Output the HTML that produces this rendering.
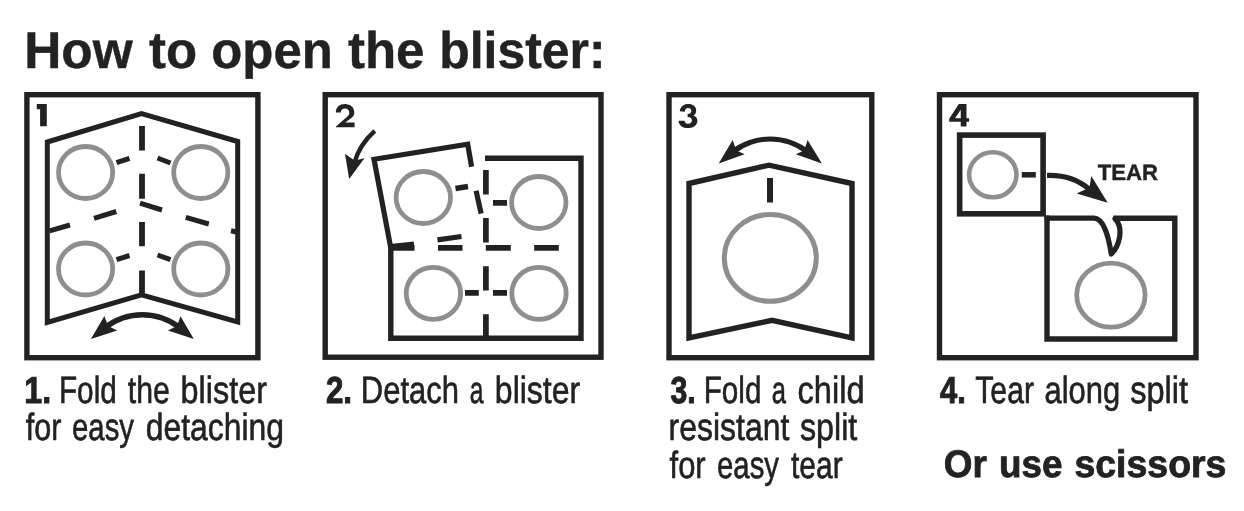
<!DOCTYPE html>
<html>
<head>
<meta charset="utf-8">
<title>How to open the blister</title>
<style>
html,body{margin:0;padding:0;background:#fff;}
body{width:1244px;height:511px;overflow:hidden;position:relative;font-family:"Liberation Sans",sans-serif;}
svg{position:absolute;left:0;top:0;display:block;}
text{font-family:"Liberation Sans",sans-serif;fill:#222;stroke:#222;text-rendering:geometricPrecision;}
.b{font-weight:bold;}
.k{stroke:#222;fill:none;}
.g{stroke:#8e8e91;fill:none;}
</style>
</head>
<body>
<svg width="1244" height="511" viewBox="0 0 1244 511">
<rect x="0" y="0" width="1244" height="511" fill="#fff"/>

<!-- Title -->

<!-- ===== Panel 1 ===== -->
<g id="p1">
<path fill="#222" d="M36.8 104.1 H46.8 V126.2 H40.1 V109.3 H36.8 Z"/>
<rect class="k" x="26.9" y="94.7" width="231" height="263" stroke-width="5.4"/>
<path class="k" stroke-width="5" stroke-linejoin="miter" d="M47.3 142 L141.5 113.5 L237.7 141.5 L237.7 322 L141.5 294.9 L47.3 322.5 Z"/>
<g class="g" stroke-width="4.8">
<ellipse cx="85.6" cy="172.5" rx="27.1" ry="26"/>
<ellipse cx="200.8" cy="172.5" rx="27.1" ry="26"/>
<ellipse cx="85.6" cy="269" rx="27.1" ry="26"/>
<ellipse cx="200.8" cy="269" rx="27.1" ry="26"/>
</g>
<g class="k" stroke-width="5">
<path stroke-width="5.8" d="M142 126 V150.5 M142 173.8 V198.8 M142 222 V246.2 M142 270.5 V293"/>
<path d="M116.5 162.7 L129.5 158.3 M157.5 158 L170.5 163"/>
<path d="M116.5 259.7 L129.5 255.5 M157.5 255 L170.5 259.7"/>
<path d="M49.5 230.8 L70 225 M94 218.3 L116.3 211.5 M140 203.2 L162 210 M185.8 217.3 L208.8 224 M231 230.8 L237.5 232.3"/>
</g>
<path fill="#222" d="M102 326.5 A63.7 63.7 0 0 1 182.7 326.5 L177.7 329.5 A57.8 57.8 0 0 0 107 329.5 Z"/>
<path fill="#222" d="M90.9 339.1 L104.4 316 L108 326 L117.3 330.5 Z"/>
<path fill="#222" d="M193.8 338.9 L180.5 316.2 L177 326 L167.9 330.5 Z"/>
</g>

<!-- ===== Panel 2 ===== -->
<g id="p2">
<path fill="#222" d="M335.8 112.4 C335.9 107.5 339.5 104.1 345 104.1 C350.5 104.1 354.3 107.6 354.3 112.6 C354.3 115 353.2 116.8 351 118.3 L345.2 122.6 H354.6 V127.3 H336 V126.6 L346.8 117 C348.6 115.6 349.3 114.4 349.3 112.8 C349.3 110.3 347.6 108.5 345 108.5 C342.5 108.5 340.9 110.2 340.9 112.4 Z"/>
<rect class="k" x="325.2" y="94.7" width="275.8" height="262.5" stroke-width="5.4"/>
<!-- arrow -->
<path class="k" stroke-width="4.5" d="M374.8 130.9 Q359.5 144.5 354.3 163"/>
<path fill="#222" d="M349.15 179.1 L345 153.7 L354.8 160.8 L364.6 158.1 Z"/>
<!-- detached blister -->
<path class="k" stroke-width="5.2" stroke-linejoin="miter" d="M471.6 166.8 L467.7 144.2 L374 159.3 L390.5 246.5 L414 244.2"/>
<path class="k" stroke-width="5.2" d="M476.1 190.8 L481.1 213.6"/>
<path class="k" stroke-width="5.2" d="M437.5 239.8 L461.5 236.5"/>
<path class="k" stroke-width="5.4" d="M455.5 188.5 L468 186.5"/>
<!-- main blister -->
<path class="k" stroke-width="5.4" stroke-linejoin="miter" d="M485 158.2 H581 V338.2 H390.8 V246"/>
<g class="k" stroke-width="5.7">
<path d="M485.9 170 V194.5 M485.9 218 V242.5 M485.9 266.2 V290.5 M485.9 314.2 V336"/>
<path d="M390 247.9 H414.5 M438 247.9 H462.5 M485.8 247.9 H510.8 M534.2 247.9 H558.8"/>
<path d="M493 202.8 H507 M465 292.9 H478.8 M493 292.9 H507"/>
</g>
<g class="g" stroke-width="4.8">
<ellipse cx="423.3" cy="197.5" rx="27.2" ry="26"/>
<ellipse cx="538.8" cy="202.5" rx="27.2" ry="26"/>
<ellipse cx="433.4" cy="293.4" rx="27.2" ry="26"/>
<ellipse cx="539" cy="293.4" rx="27.2" ry="26"/>
</g>
</g>

<!-- ===== Panel 3 ===== -->
<g id="p3">
<path fill="#222" d="M679.8 111.3 C680.3 106.8 683.6 104.1 688.4 104.1 C693 104.1 696.2 106.6 696.2 110.5 C696.2 112.8 695.3 114.4 693.5 115.5 C696 116.5 697.4 118.2 697.4 120.8 C697.4 125.2 693.6 128.1 688 128.1 C682.4 128.1 678.9 125.3 678.5 120.7 H684.5 C684.8 122.7 686 123.8 688.2 123.8 C690.4 123.8 691.9 122.4 691.9 120.3 C691.9 118.2 690.4 117 687.6 117 V113.9 C690 113.9 691.3 112.8 691.3 110.9 C691.3 109.2 690 108.1 688 108.1 C686.1 108.1 685 109.4 684.9 111.7 Z"/>
<rect class="k" x="669" y="94.7" width="202.8" height="263" stroke-width="5.4"/>
<path fill="#222" d="M729.3 151 A64.4 64.4 0 0 1 810.8 151 L805.2 153.5 A56.7 56.7 0 0 0 735.4 153.5 Z"/>
<path fill="#222" d="M718.7 163.5 L732.7 140.1 L736.2 150.5 L744.7 154.2 Z"/>
<path fill="#222" d="M821.9 163.5 L807.6 140.1 L804.2 150.5 L795.7 154.2 Z"/>
<path class="k" stroke-width="5.4" stroke-linejoin="miter" d="M689 183.5 L769 165.2 L852 183.5 L852 338 L772 320.3 L689 338 Z"/>
<path class="k" stroke-width="6" d="M770 178 V202.5"/>
<ellipse class="g" stroke-width="5" cx="770.3" cy="257.9" rx="46" ry="43.4"/>
</g>

<!-- ===== Panel 4 ===== -->
<g id="p4">
<path fill="#222" fill-rule="evenodd" d="M958.8 104.1 H966.5 V118.3 H969.1 V121.8 H966.5 V126.4 H960.75 V121.8 H949.2 V118.7 Z M960.75 109.7 V118.3 H955 Z"/>
<rect class="k" x="939.5" y="94.7" width="256.5" height="263" stroke-width="5.4"/>
<rect class="k" x="959.65" y="135.1" width="83.45" height="78.7" stroke-width="5.6"/>
<ellipse class="g" stroke-width="4.6" cx="992.8" cy="174.8" rx="23.7" ry="22.5"/>
<path class="k" stroke-width="5.5" d="M1021.8 174.8 H1035.8"/>
<path class="k" stroke-width="5.1" d="M1047 175.4 Q1072 174.5 1089 189"/>
<path fill="#222" d="M1107.7 202.7 L1091.3 176.1 L1089.5 187.5 L1076.7 193.4 Z"/>
<path class="k" stroke-width="5.2" stroke-linejoin="round" stroke-linecap="round" d="M1047 218.2 H1094 C1104 218.5 1108.5 237 1111.3 254 C1119.5 246 1124 228 1115 218.6"/>
<path class="k" stroke-width="5.4" stroke-linejoin="miter" d="M1113.5 218.2 H1174.8 V339 H1047 V215.5"/>
<ellipse class="g" stroke-width="4.8" cx="1110.9" cy="295.1" rx="34.2" ry="32"/>
</g>
<g style="opacity:.999">
<text class="b" font-size="51.6" stroke-width="0.4" vector-effect="non-scaling-stroke" transform="translate(24.21 67.7) scale(0.9960 1)">How</text>
<text class="b" font-size="51.6" stroke-width="0.4" vector-effect="non-scaling-stroke" transform="translate(148.95 67.7) scale(0.9877 1)">to</text>
<text class="b" font-size="51.6" stroke-width="0.4" vector-effect="non-scaling-stroke" transform="translate(211.23 67.7) scale(0.9863 1)">open</text>
<text class="b" font-size="51.6" stroke-width="0.4" vector-effect="non-scaling-stroke" transform="translate(347.95 67.7) scale(0.9888 1)">the</text>
<text class="b" font-size="51.6" stroke-width="0.4" vector-effect="non-scaling-stroke" transform="translate(439.30 67.7) scale(0.9667 1)">blister:</text>
<text class="b" font-size="37.6" stroke-width="1.0" vector-effect="non-scaling-stroke" transform="translate(24.29 402.75) scale(0.8550 1)">1.</text>
<text font-size="38" stroke-width="0.6" vector-effect="non-scaling-stroke" transform="translate(58.95 402.75) scale(0.7821 1)">Fold</text>
<text font-size="38" stroke-width="0.6" vector-effect="non-scaling-stroke" transform="translate(127.80 402.75) scale(0.7961 1)">the</text>
<text font-size="38" stroke-width="0.6" vector-effect="non-scaling-stroke" transform="translate(180.60 402.75) scale(0.8515 1)">blister</text>
<text font-size="38" stroke-width="0.6" vector-effect="non-scaling-stroke" transform="translate(25.80 440.25) scale(0.8033 1)">for</text>
<text font-size="38" stroke-width="0.6" vector-effect="non-scaling-stroke" transform="translate(72.03 440.25) scale(0.7714 1)">easy</text>
<text font-size="38" stroke-width="0.6" vector-effect="non-scaling-stroke" transform="translate(145.71 440.25) scale(0.8391 1)">detaching</text>
<text class="b" font-size="37.6" stroke-width="1.0" vector-effect="non-scaling-stroke" transform="translate(325.92 402.75) scale(0.8334 1)">2.</text>
<text font-size="38" stroke-width="0.6" vector-effect="non-scaling-stroke" transform="translate(360.86 402.75) scale(0.8146 1)">Detach</text>
<text font-size="38" stroke-width="0.6" vector-effect="non-scaling-stroke" transform="translate(469.65 402.75) scale(0.6500 1)">a</text>
<text font-size="38" stroke-width="0.6" vector-effect="non-scaling-stroke" transform="translate(494.87 402.75) scale(0.8414 1)">blister</text>
<text class="b" font-size="37.6" stroke-width="1.0" vector-effect="non-scaling-stroke" transform="translate(670.50 402.75) scale(0.8045 1)">3.</text>
<text font-size="38" stroke-width="0.6" vector-effect="non-scaling-stroke" transform="translate(703.71 402.75) scale(0.7799 1)">Fold</text>
<text font-size="38" stroke-width="0.6" vector-effect="non-scaling-stroke" transform="translate(771.63 402.75) scale(0.6738 1)">a</text>
<text font-size="38" stroke-width="0.6" vector-effect="non-scaling-stroke" transform="translate(797.44 402.75) scale(0.8585 1)">child</text>
<text font-size="38" stroke-width="0.6" vector-effect="non-scaling-stroke" transform="translate(668.62 440.25) scale(0.8405 1)">resistant</text>
<text font-size="38" stroke-width="0.6" vector-effect="non-scaling-stroke" transform="translate(799.95 440.25) scale(0.8490 1)">split</text>
<text font-size="38" stroke-width="0.6" vector-effect="non-scaling-stroke" transform="translate(669.55 477.75) scale(0.8145 1)">for</text>
<text font-size="38" stroke-width="0.6" vector-effect="non-scaling-stroke" transform="translate(717.03 477.75) scale(0.7714 1)">easy</text>
<text font-size="38" stroke-width="0.6" vector-effect="non-scaling-stroke" transform="translate(791.05 477.75) scale(0.7885 1)">tear</text>
<text class="b" font-size="37.6" stroke-width="1.0" vector-effect="non-scaling-stroke" transform="translate(940.00 402.75) scale(0.8218 1)">4.</text>
<text font-size="38" stroke-width="0.6" vector-effect="non-scaling-stroke" transform="translate(975.30 402.75) scale(0.7931 1)">Tear</text>
<text font-size="38" stroke-width="0.6" vector-effect="non-scaling-stroke" transform="translate(1044.49 402.75) scale(0.8142 1)">along</text>
<text font-size="38" stroke-width="0.6" vector-effect="non-scaling-stroke" transform="translate(1130.19 402.75) scale(0.8565 1)">split</text>
<text class="b" font-size="38.4" stroke-width="0.8" vector-effect="non-scaling-stroke" transform="translate(943.74 476.75) scale(0.9598 1)">Or</text>
<text class="b" font-size="38.4" stroke-width="0.8" vector-effect="non-scaling-stroke" transform="translate(998.98 476.75) scale(0.9592 1)">use</text>
<text class="b" font-size="38.4" stroke-width="0.8" vector-effect="non-scaling-stroke" transform="translate(1074.42 476.75) scale(0.9755 1)">scissors</text>
<text class="b" font-size="22.2" stroke-width="0.4" vector-effect="non-scaling-stroke" transform="translate(1097.70 179.6) scale(1.0004 1)">TEAR</text>
</g>
</svg>
</body>
</html>
